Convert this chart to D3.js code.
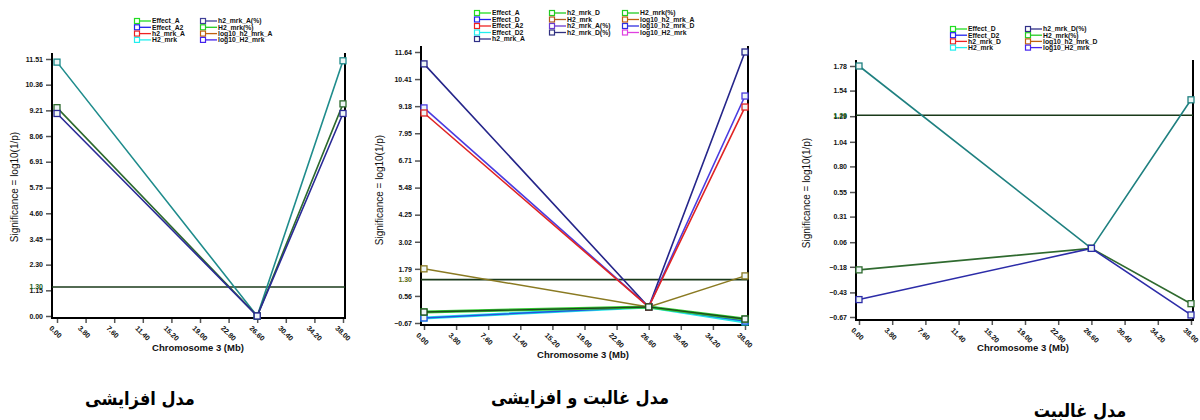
<!DOCTYPE html>
<html>
<head>
<meta charset="utf-8" />
<title>QTL chromosome 3</title>
<script src="https://cdnjs.cloudflare.com/ajax/libs/d3/7.8.5/d3.min.js"></script>
<style>
  body { margin: 0; background: #fff; }
  svg text { font-family: 'Liberation Sans', Arial, sans-serif; }
</style>
</head>
<body>
<svg id="chart" width="1200" height="420"></svg>
<script>
// shared values
const xTickValues = [0, 3.8, 7.6, 11.4, 15.2, 19.0, 22.8, 26.6, 30.4, 34.2, 38.0]
const positions = [0, 26.6, 38]
const threshold = 1.30
const xTitle = 'Chromosome 3 (Mb)'
const yTitle = 'Significance = log10(1/p)'

// panel 1 - additive model
const p1Ticks = [0.00, 1.15, 2.30, 3.45, 4.60, 5.75, 6.91, 8.06, 9.21, 10.36, 11.51]
const p1Names = ['H2_mrk', 'H2_mrk(%)', 'h2_mrk_A(%)']
const p1Values = [[11.37, 0.00, 11.43], [9.33, 0.00, 9.50], [9.07, 0.00, 9.07]]
const p1Legend = [
  ['Effect_A', 'Effect_A2', 'h2_mrk_A', 'H2_mrk'],
  ['h2_mrk_A(%)', 'H2_mrk(%)', 'log10_h2_mrk_A', 'log10_H2_mrk']
]
const p1Title = 'مدل افزایشی'

// panel 2 - dominance and additive model
const p2Ticks = [-0.67, 0.56, 1.79, 3.02, 4.25, 5.48, 6.71, 7.95, 9.18, 10.41, 11.64]
const p2Names = ['Effect_D2', 'Effect_D', 'Effect_A', 'H2_mrk', 'h2_mrk_A', 'h2_mrk_A(%)', 'Effect_A2', 'h2_mrk_D']
const p2Values = [
  [-0.44, 0.06, -0.62],
  [-0.44, 0.06, -0.58],
  [-0.17, 0.06, -0.49],
  [1.79, 0.06, 1.47],
  [11.10, 0.06, 11.64],
  [9.10, 0.06, 9.64],
  [8.87, 0.06, 9.14],
  [-0.17, 0.06, -0.49]
]
const p2Legend = [
  ['Effect_A', 'Effect_D', 'Effect_A2', 'Effect_D2', 'h2_mrk_A'],
  ['h2_mrk_D', 'H2_mrk', 'h2_mrk_A(%)', 'h2_mrk_D(%)'],
  ['H2_mrk(%)', 'log10_h2_mrk_A', 'log10_h2_mrk_D', 'log10_H2_mrk']
]
const p2Title = 'مدل غالبت و افزایشی'

// panel 3 - dominance model
const p3Ticks = [-0.67, -0.43, -0.18, 0.06, 0.31, 0.55, 0.80, 1.04, 1.29, 1.54, 1.78]
const p3Names = ['H2_mrk', 'log10_h2_mrk_D', 'h2_mrk_D(%)']
const p3Values = [[1.78, 0.00, 1.45], [-0.21, 0.00, -0.54], [-0.50, 0.00, -0.65]]
const p3Legend = [
  ['Effect_D', 'Effect_D2', 'h2_mrk_D', 'H2_mrk'],
  ['h2_mrk_D(%)', 'H2_mrk(%)', 'log10_h2_mrk_D', 'log10_H2_mrk']
]
const p3Title = 'مدل غالبیت'

// styles and layout
const panels = [
  {
    ticks: p1Ticks, names: p1Names, values: p1Values, legend: p1Legend, title: p1Title,
    colors: ['#1f8c8c', '#2d6a2d', '#2a2a96'], widths: [1.6, 1.6, 1.6],
    legendColors: [['#22dd22', '#2222ee', '#ee2222', '#22eeee'], ['#404098', '#22cc22', '#c06010', '#4422ee']],
    axisX: 52, xr: [57, 343], yr: [316, 59], top: 53, bottom: 318, right: 345,
    legX: [137, 203], legY: 21, legStep: 6.3,
    thrLabel: '1.30', thrColor: '#1a5a1a',
    yTitlePos: [18, 187], xTitlePos: [198, 351], titlePos: [140, 398]
  },
  {
    ticks: p2Ticks, names: p2Names, values: p2Values, legend: p2Legend, title: p2Title,
    colors: ['#22e8e8', '#2454e0', '#33cc33', '#8a7a22', '#25258a', '#4b3ce0', '#e02424', '#1e4a1e'],
    widths: [3, 1.5, 3, 1.5, 1.6, 1.6, 1.6, 1.4],
    legendColors: [['#22dd22', '#2222ee', '#ee2222', '#22eeee', '#303088'],
                   ['#22cc22', '#b05a20', '#6a3ad0', '#303080'],
                   ['#22cc22', '#c06010', '#3030e0', '#e040e0']],
    axisX: 421, xr: [424, 745], yr: [323, 52], top: 46, bottom: 325, right: 748,
    legX: [477, 552, 625], legY: 13, legStep: 6.5,
    thrLabel: '1.30', thrColor: '#5a6a10',
    yTitlePos: [383, 190], xTitlePos: [583, 358], titlePos: [580, 397]
  },
  {
    ticks: p3Ticks, names: p3Names, values: p3Values, legend: p3Legend, title: p3Title,
    colors: ['#1f8080', '#2f6a2f', '#2c2ca8'], widths: [1.6, 1.6, 1.6],
    legendColors: [['#22dd22', '#2222ee', '#ee2222', '#22eeee'], ['#303088', '#22cc22', '#c06010', '#4422ee']],
    axisX: 856, xr: [859, 1191], yr: [317, 66], top: 60, bottom: 320, right: 1193,
    legX: [953, 1028], legY: 29, legStep: 6.2,
    thrLabel: '1.29', thrColor: '#1a6a1a',
    yTitlePos: [810, 193], xTitlePos: [1023, 351], titlePos: [1080, 410]
  }
]

const svg = d3.select('#chart')

panels.forEach(function(p) {
  const g = svg.append('g')
  const x = d3.scaleLinear().domain([0, 38]).range(p.xr)
  const y = d3.scaleLinear().domain([p.ticks[0], p.ticks[p.ticks.length - 1]]).range(p.yr)

  // y axis
  const yAxis = d3.axisLeft(y).tickValues(p.ticks).tickFormat(d3.format('.2f')).tickSize(6).tickPadding(3)
  const ya = g.append('g').attr('transform', 'translate(' + p.axisX + ',0)').call(yAxis)
  ya.select('.domain').remove()
  ya.selectAll('line').attr('stroke', '#555').attr('stroke-width', 1.5)
  ya.selectAll('text').attr('font-size', 7).attr('font-weight', 'bold').attr('fill', '#111')

  // x axis
  const xAxis = d3.axisBottom(x).tickValues(xTickValues).tickFormat(d3.format('.2f')).tickSize(5)
  const xa = g.append('g').attr('transform', 'translate(0,' + p.bottom + ')').call(xAxis)
  xa.select('.domain').remove()
  xa.selectAll('line').attr('stroke', '#555').attr('stroke-width', 1.5)
  xa.selectAll('text')
    .attr('font-size', 7.2).attr('font-weight', 'bold').attr('fill', '#111')
    .attr('text-anchor', 'start')
    .attr('dy', 0)
    .attr('transform', 'translate(-3,5) rotate(45)')

  // frame: left, bottom, right
  g.append('line').attr('x1', p.axisX).attr('x2', p.axisX).attr('y1', p.top).attr('y2', p.bottom + 1)
    .attr('stroke', '#000').attr('stroke-width', 2)
  g.append('line').attr('x1', p.axisX).attr('x2', p.right + 1).attr('y1', p.bottom).attr('y2', p.bottom)
    .attr('stroke', '#000').attr('stroke-width', 2)
  g.append('line').attr('x1', p.right).attr('x2', p.right).attr('y1', p.top).attr('y2', p.bottom)
    .attr('stroke', '#000').attr('stroke-width', 2)

  // threshold line
  g.append('line').attr('x1', p.axisX).attr('x2', p.right).attr('y1', y(threshold)).attr('y2', y(threshold))
    .attr('stroke', '#1a3a1a').attr('stroke-width', 1.6)
  g.append('text').attr('x', p.axisX - 9).attr('y', y(threshold) + 2.5)
    .attr('text-anchor', 'end').attr('font-size', 7).attr('font-weight', 'bold')
    .attr('fill', p.thrColor).text(p.thrLabel)

  // series
  const line = d3.line().x(function(d, i) { return x(positions[i]) }).y(function(d) { return y(d) })
  p.values.forEach(function(vals, k) {
    g.append('path').attr('d', line(vals)).attr('fill', 'none')
      .attr('stroke', p.colors[k]).attr('stroke-width', p.widths[k])
      .attr('class', p.names[k])
    g.selectAll('.m' + k).data(vals).enter().append('rect')
      .attr('x', function(d, i) { return x(positions[i]) - 3 })
      .attr('y', function(d) { return y(d) - 3 })
      .attr('width', 6).attr('height', 6)
      .attr('fill', '#eef6f6').attr('stroke', p.colors[k]).attr('stroke-width', 1.3)
  })

  // legend
  p.legend.forEach(function(col, c) {
    col.forEach(function(label, r) {
      const lx = p.legX[c]
      const ly = p.legY + r * p.legStep
      const color = p.legendColors[c][r]
      g.append('line').attr('x1', lx + 3).attr('x2', lx + 14).attr('y1', ly).attr('y2', ly)
        .attr('stroke', color).attr('stroke-width', 1.3)
      g.append('rect').attr('x', lx - 2.5).attr('y', ly - 2.5).attr('width', 5).attr('height', 5)
        .attr('fill', '#fff').attr('stroke', color).attr('stroke-width', 1.2)
      g.append('text').attr('x', lx + 15).attr('y', ly + 2.4)
        .attr('font-size', 6.8).attr('font-weight', 'bold').attr('fill', '#111').text(label)
    })
  })

  // axis titles
  g.append('text').attr('transform', 'translate(' + p.yTitlePos[0] + ',' + p.yTitlePos[1] + ') rotate(-90)')
    .attr('text-anchor', 'middle').attr('font-size', 10).attr('fill', '#111').text(yTitle)
  g.append('text').attr('x', p.xTitlePos[0]).attr('y', p.xTitlePos[1])
    .attr('text-anchor', 'middle').attr('font-size', 9.5).attr('font-weight', 'bold').attr('fill', '#111').text(xTitle)

  // persian title
  g.append('text').attr('x', p.titlePos[0]).attr('y', p.titlePos[1] + 7)
    .attr('text-anchor', 'middle').attr('direction', 'rtl')
    .style('font-family', "'DejaVu Sans Condensed', 'DejaVu Sans', sans-serif")
    .attr('font-size', 18).attr('font-weight', 'bold').attr('fill', '#000').text(p.title)
})
</script>
</body>
</html>
